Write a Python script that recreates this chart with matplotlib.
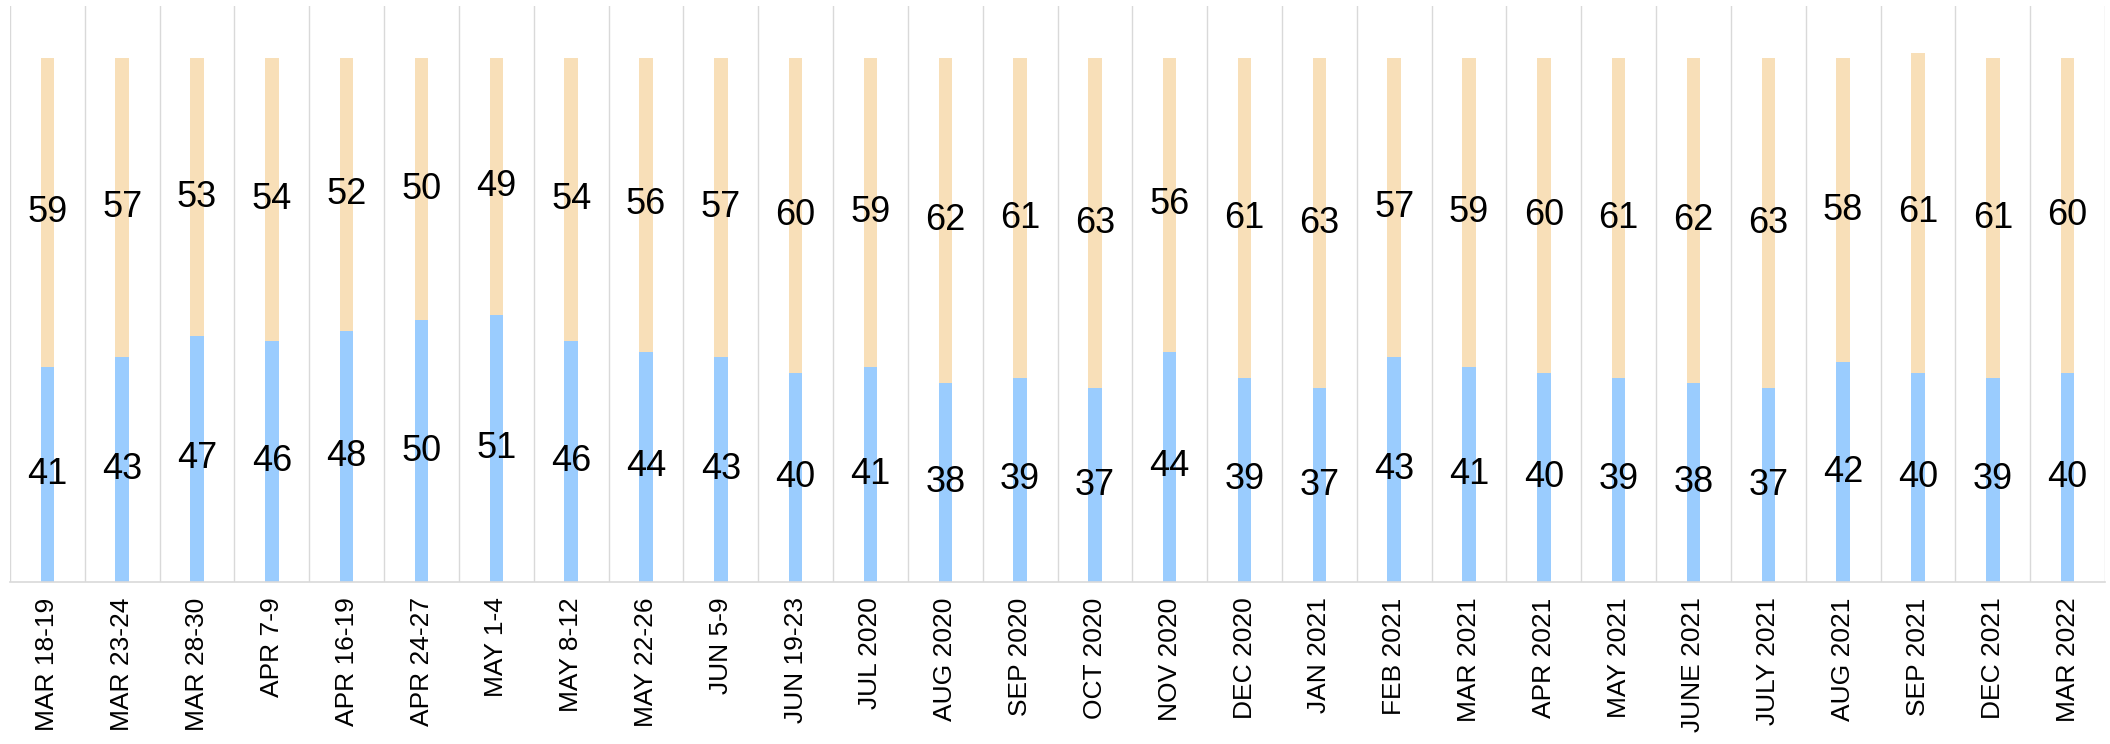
import matplotlib
matplotlib.use("Agg")
import matplotlib.pyplot as plt
from matplotlib import font_manager

categories = ["MAR 18-19", "MAR 23-24", "MAR 28-30", "APR 7-9", "APR 16-19", "APR 24-27",
              "MAY 1-4", "MAY 8-12", "MAY 22-26", "JUN 5-9", "JUN 19-23", "JUL 2020",
              "AUG 2020", "SEP 2020", "OCT 2020", "NOV 2020", "DEC 2020", "JAN 2021",
              "FEB 2021", "MAR 2021", "APR 2021", "MAY 2021", "JUNE 2021", "JULY 2021",
              "AUG 2021", "SEP 2021", "DEC 2021", "MAR 2022"]
blue_vals = [41, 43, 47, 46, 48, 50, 51, 46, 44, 43, 40, 41, 38, 39, 37, 44, 39, 37,
             43, 41, 40, 39, 38, 37, 42, 40, 39, 40]
peach_vals = [59, 57, 53, 54, 52, 50, 49, 54, 56, 57, 60, 59, 62, 61, 63, 56, 61, 63,
              57, 59, 60, 61, 62, 63, 58, 61, 61, 60]

names = {f.name for f in font_manager.fontManager.ttflist}
base = "Liberation Sans" if "Liberation Sans" in names else "DejaVu Sans"

BLUE = "#9ACCFE"
PEACH = "#F8DFB8"
GRID = "#D9D9D9"

fig = plt.figure(figsize=(21.10, 7.44), dpi=100)
ax = fig.add_axes([10 / 2110, 162 / 744, 2095 / 2110, 576 / 744])

x = list(range(len(categories)))
w = 0.18
ax.bar(x, blue_vals, width=w, color=BLUE, zorder=2)
ax.bar(x, peach_vals, width=w, bottom=blue_vals, color=PEACH, zorder=2)

for i in range(len(categories) + 1):
    ax.axvline(i - 0.5, color=GRID, lw=1.0, zorder=1)

num_font = dict(family=base, fontsize=26)

for i, (b, p) in enumerate(zip(blue_vals, peach_vals)):
    ax.text(i, b / 2, str(b), ha="center", va="center", color="black", zorder=3, **num_font)
    ax.text(i, b + p / 2, str(p), ha="center", va="center", color="black", zorder=3, **num_font)

ax.set_xlim(-0.5, len(categories) - 0.5)
ax.set_ylim(0, 110)
ax.set_xticks(x)
ax.set_xticklabels(categories, rotation=90, fontsize=19, family=base, va="top", ha="center")
ax.tick_params(axis="x", length=0, pad=11)
ax.set_yticks([])
for s in ["top", "right", "left"]:
    ax.spines[s].set_visible(False)
ax.spines["bottom"].set_color(GRID)
ax.spines["bottom"].set_linewidth(1.2)

fig.savefig("out.png", dpi=100)
